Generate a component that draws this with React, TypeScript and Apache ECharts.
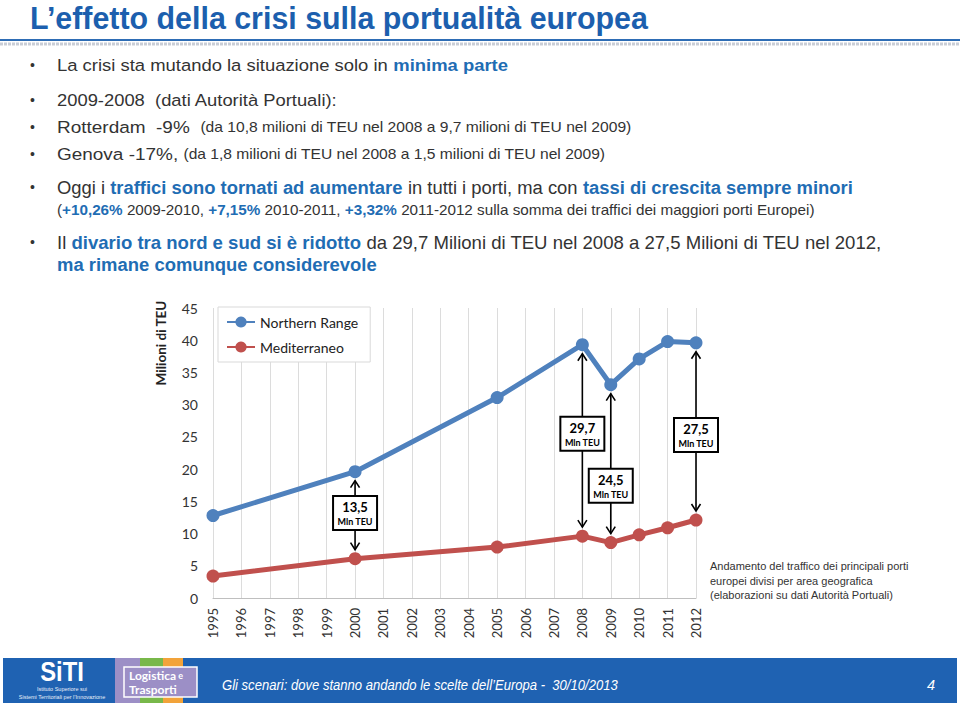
import React, { useEffect, useRef } from "react";
import * as echarts from "echarts";

// ---------- data ----------
const years = [
  "1995", "1996", "1997", "1998", "1999", "2000", "2001", "2002", "2003",
  "2004", "2005", "2006", "2007", "2008", "2009", "2010", "2011", "2012",
];
const northernRange: (number | null)[] = [
  12.8, null, null, null, null, 19.6, null, null, null, null, 31.1, null, null,
  39.3, 33.1, 37.1, 39.8, 39.6,
];
const mediterraneo: (number | null)[] = [
  3.4, null, null, null, null, 6.1, null, null, null, null, 7.9, null, null,
  9.6, 8.6, 9.8, 10.9, 12.1,
];
const gapYears = ["2000", "2008", "2009", "2012"];
const gapLabels = ["13,5", "29,7", "24,5", "27,5"];
const gapUnit = "Mln TEU";
const seriesNames = ["Northern Range", "Mediterraneo"];

// layout of annotation boxes (box centre expressed on the value scale)
const boxCentres = [13.2, 25.5, 17.4, 25.3];

const TXT = "'Liberation Sans', Arial, Helvetica, sans-serif";
const CAL = "Lato, 'Open Sans', sans-serif";
const DARK = "#333333";
const BLUE = "#1f6db4";

type Seg = { t: string; b?: boolean; s: number; c?: string; i?: boolean };
type Line = { x: number; y: number; end: number; segs: Seg[]; bullet?: boolean };

const lines: Line[] = [
  { x: 57, y: 65, end: 508, bullet: true, segs: [
    { t: "La crisi sta mutando la situazione solo in ", s: 17 },
    { t: "minima parte", s: 17, b: true, c: BLUE },
  ] },
  { x: 57, y: 100, end: 338, bullet: true, segs: [
    { t: "2009-2008  (dati Autorità Portuali):", s: 17 },
  ] },
  { x: 57, y: 127, end: 632, bullet: true, segs: [
    { t: "Rotterdam  -9%  ", s: 17 },
    { t: "(da 10,8 milioni di TEU nel 2008 a 9,7 milioni di TEU nel 2009)", s: 14 },
  ] },
  { x: 57, y: 154, end: 606, bullet: true, segs: [
    { t: "Genova -17%, ", s: 17 },
    { t: "(da 1,8 milioni di TEU nel 2008 a 1,5 milioni di TEU nel 2009)", s: 14 },
  ] },
  { x: 57, y: 187, end: 853, bullet: true, segs: [
    { t: "Oggi i ", s: 19 },
    { t: "traffici sono tornati ad aumentare", s: 19, b: true, c: BLUE },
    { t: " in tutti i porti, ma con ", s: 19 },
    { t: "tassi di crescita sempre minori", s: 19, b: true, c: BLUE },
  ] },
  { x: 57, y: 210, end: 815, segs: [
    { t: "(", s: 15 },
    { t: "+10,26%", s: 15, b: true, c: BLUE },
    { t: " 2009-2010, ", s: 15 },
    { t: "+7,15%", s: 15, b: true, c: BLUE },
    { t: " 2010-2011, ", s: 15 },
    { t: "+3,32%", s: 15, b: true, c: BLUE },
    { t: " 2011-2012 sulla somma dei traffici dei maggiori porti Europei)", s: 15 },
  ] },
  { x: 57, y: 242, end: 882, bullet: true, segs: [
    { t: "Il ", s: 19 },
    { t: "divario tra nord e sud si è ridotto", s: 19, b: true, c: BLUE },
    { t: " da 29,7 Milioni di TEU nel 2008 a 27,5 Milioni di TEU nel 2012,", s: 19 },
  ] },
  { x: 57, y: 264, end: 377, segs: [
    { t: "ma rimane comunque considerevole", s: 19, b: true, c: BLUE },
  ] },
];

const captionLines = [
  "Andamento del traffico dei principali porti",
  "europei divisi per area geografica",
  "(elaborazioni su dati Autorità Portuali)",
];

let measureCtx: CanvasRenderingContext2D | null = null;
function measure(seg: Seg, family: string) {
  if (!measureCtx) measureCtx = document.createElement("canvas").getContext("2d");
  measureCtx!.font = `${seg.i ? "italic " : ""}${seg.b ? "bold " : ""}${seg.s}px ${family}`;
  return measureCtx!.measureText(seg.t).width;
}

function fittedText(x: number, y: number, end: number, segs: Seg[], family: string, extra: any = {}) {
  const natural = segs.reduce((a, s) => a + measure(s, family), 0);
  const rich: any = {};
  segs.forEach((s, k) => {
    rich["s" + k] = {
      fill: s.c || DARK,
      fontSize: s.s,
      fontWeight: s.b ? "bold" : "normal",
      fontStyle: s.i ? "italic" : "normal",
      fontFamily: family,
      lineHeight: 20,
    };
  });
  return {
    type: "text",
    x,
    y,
    scaleX: (end - x) / natural,
    style: {
      text: segs.map((s, k) => `{s${k}|${s.t}}`).join(""),
      rich,
      verticalAlign: "middle",
      align: "left",
      ...extra,
    },
  };
}

export default function App() {
  const ref = useRef<HTMLDivElement>(null);

  useEffect(() => {
    if (!ref.current) return;
    const chart = echarts.init(ref.current, undefined, { renderer: "svg" });

    chart.setOption({
      animation: false,
      backgroundColor: "#ffffff",
      grid: { left: 213, right: 264, top: 308, bottom: 108, containLabel: false },
      legend: {
        data: seriesNames,
        orient: "vertical",
        left: 218,
        top: 307,
        itemWidth: 28,
        itemHeight: 14,
        itemGap: 11,
        padding: [8, 12, 8, 8],
        backgroundColor: "#ffffff",
        borderColor: "#d9d9d9",
        borderWidth: 1,
        textStyle: { fontSize: 14, color: "#222", fontFamily: CAL },
      },
      xAxis: {
        type: "category",
        data: years,
        boundaryGap: false,
        axisLine: { lineStyle: { color: "#bfbfbf", width: 1 } },
        axisTick: { show: false },
        axisLabel: {
          rotate: 90,
          interval: 0,
          fontSize: 13,
          color: DARK,
          fontFamily: CAL,
          margin: 10,
        },
        splitLine: { show: true, lineStyle: { color: "#dcdcdc", width: 1 } },
      },
      yAxis: {
        type: "value",
        min: 0,
        max: 45,
        interval: 5,
        axisLine: { show: false },
        axisTick: { show: false },
        axisLabel: { fontSize: 14, color: DARK, fontFamily: CAL, margin: 15 },
        splitLine: { show: false },
      },
      series: [
        {
          name: seriesNames[0],
          type: "line",
          data: northernRange,
          connectNulls: true,
          symbol: "circle",
          symbolSize: 13,
          lineStyle: { width: 5, color: "#4f81bd" },
          itemStyle: { color: "#4f81bd" },
          z: 3,
        },
        {
          name: seriesNames[1],
          type: "line",
          data: mediterraneo,
          connectNulls: true,
          symbol: "circle",
          symbolSize: 13,
          lineStyle: { width: 5, color: "#c0504d" },
          itemStyle: { color: "#c0504d" },
          z: 3,
        },
      ],
    });

    const graphics: any[] = [];

    // title
    graphics.push(
      fittedText(30, 18, 648, [{ t: "L’effetto della crisi sulla portualità europea", s: 31, b: true, c: "#1c5fae" }], TXT)
    );
    graphics.push({ type: "line", shape: { x1: 0, y1: 40, x2: 960, y2: 40 }, style: { stroke: "#2e6db5", lineWidth: 2 } });
    graphics.push({ type: "line", shape: { x1: 0, y1: 44, x2: 960, y2: 44 }, style: { stroke: "#c9cdd6", lineWidth: 3, lineDash: [3, 1] } });

    // bullets
    lines.forEach((ln) => {
      if (ln.bullet) {
        graphics.push({
          type: "text",
          x: 30,
          y: ln.y,
          style: { text: "•", fill: DARK, fontSize: 14, fontFamily: TXT, verticalAlign: "middle", align: "left" },
        });
      }
      graphics.push(fittedText(ln.x, ln.y, ln.end, ln.segs, TXT));
    });

    // y axis name
    graphics.push({
      type: "text",
      x: 161,
      y: 343,
      rotation: Math.PI / 2,
      style: { text: "Milioni di TEU", fill: "#222", fontSize: 13.5, fontWeight: "bold", fontFamily: CAL, align: "center", verticalAlign: "middle" },
    });

    // caption
    captionLines.forEach((t, k) => {
      graphics.push({
        type: "text",
        x: 710,
        y: 566 + k * 14.5,
        style: { text: t, fill: DARK, fontSize: 11, fontFamily: TXT, verticalAlign: "middle", align: "left" },
      });
    });

    // annotations
    gapYears.forEach((yr, k) => {
      const idx = years.indexOf(yr);
      const pTop = chart.convertToPixel({ gridIndex: 0 }, [idx, northernRange[idx] as number]) as number[];
      const pBot = chart.convertToPixel({ gridIndex: 0 }, [idx, mediterraneo[idx] as number]) as number[];
      const pc = chart.convertToPixel({ gridIndex: 0 }, [idx, boxCentres[k]]) as number[];
      const x = pTop[0];
      const bw = 44;
      const bh = 34;
      const bt = pc[1] - bh / 2;
      const bb = pc[1] + bh / 2;
      const tipUp = pTop[1] + 9;
      const tipDown = pBot[1] - 9;
      const st = { stroke: "#000", lineWidth: 1.6, fill: null };
      graphics.push({ type: "line", shape: { x1: x, y1: bt, x2: x, y2: tipUp }, style: st, z: 10 });
      graphics.push({ type: "polyline", shape: { points: [[x - 4.5, tipUp + 7], [x, tipUp], [x + 4.5, tipUp + 7]] }, style: st, z: 10 });
      graphics.push({ type: "line", shape: { x1: x, y1: bb, x2: x, y2: tipDown }, style: st, z: 10 });
      graphics.push({ type: "polyline", shape: { points: [[x - 4.5, tipDown - 7], [x, tipDown], [x + 4.5, tipDown - 7]] }, style: st, z: 10 });
      graphics.push({
        type: "rect",
        shape: { x: x - bw / 2, y: bt, width: bw, height: bh },
        style: { fill: "#fff", stroke: "#000", lineWidth: 2 },
        z: 11,
      });
      graphics.push({
        type: "text",
        x,
        y: pc[1] - 6,
        z: 12,
        style: { text: gapLabels[k], fill: "#000", fontSize: 13, fontWeight: "bold", fontFamily: CAL, align: "center", verticalAlign: "middle", lineHeight: 14 },
      });
      graphics.push({
        type: "text",
        x,
        y: pc[1] + 9,
        z: 12,
        style: { text: gapUnit, fill: "#000", fontSize: 9, fontWeight: "bold", fontFamily: CAL, align: "center", verticalAlign: "middle", lineHeight: 10 },
      });
    });

    // footer
    graphics.push({ type: "rect", shape: { x: 3, y: 658, width: 954, height: 45 }, style: { fill: "#1f62b2" } });
    graphics.push({ type: "rect", shape: { x: 115, y: 658, width: 25, height: 45 }, style: { fill: "#9c8fc6" } });
    graphics.push({ type: "rect", shape: { x: 140, y: 658, width: 23, height: 45 }, style: { fill: "#78b84a" } });
    graphics.push({ type: "rect", shape: { x: 163, y: 658, width: 20, height: 45 }, style: { fill: "#f2a33a" } });
    graphics.push({ type: "rect", shape: { x: 124, y: 667, width: 73, height: 30 }, style: { fill: "#9c8fc6", stroke: "#ffffff", lineWidth: 1.5 } });
    graphics.push({
      type: "text", x: 129, y: 675,
      style: {
        text: "{a|Logistica}{b| e}",
        rich: {
          a: { fill: "#fff", fontSize: 12, fontWeight: "bold", fontFamily: CAL, lineHeight: 12 },
          b: { fill: "#fff", fontSize: 9, fontWeight: "bold", fontFamily: CAL, lineHeight: 12 },
        },
        verticalAlign: "middle",
      },
    });
    graphics.push({
      type: "text", x: 129, y: 689,
      style: { text: "Trasporti", fill: "#fff", fontSize: 12, fontWeight: "bold", fontFamily: CAL, verticalAlign: "middle", lineHeight: 12 },
    });
    graphics.push({
      type: "text", x: 62, y: 671, scaleX: 0.85,
      style: { text: "SiTI", fill: "#fff", fontSize: 28, fontWeight: "bold", fontFamily: TXT, align: "center", verticalAlign: "middle", lineHeight: 24 },
    });
    graphics.push({
      type: "text", x: 62, y: 689,
      style: { text: "Istituto Superiore sui", fill: "#e8eef8", fontSize: 5.5, fontFamily: TXT, align: "center", verticalAlign: "middle", lineHeight: 6 },
    });
    graphics.push({
      type: "text", x: 62, y: 697,
      style: { text: "Sistemi Territoriali per l’Innovazione", fill: "#e8eef8", fontSize: 5.5, fontFamily: TXT, align: "center", verticalAlign: "middle", lineHeight: 6 },
    });
    graphics.push(
      fittedText(222, 685, 618, [{ t: "Gli scenari: dove stanno andando le scelte dell’Europa -  30/10/2013", s: 14.5, i: true, c: "#ffffff" }], TXT)
    );
    graphics.push({
      type: "text", x: 927, y: 685,
      style: { text: "4", fill: "#fff", fontSize: 14.5, fontStyle: "italic", fontFamily: TXT, verticalAlign: "middle" },
    });

    chart.setOption({ graphic: { elements: graphics } });

    return () => chart.dispose();
  }, []);

  return (
    <div
      ref={ref}
      style={{ position: "fixed", left: 0, top: 0, width: 960, height: 706 }}
    />
  );
}
